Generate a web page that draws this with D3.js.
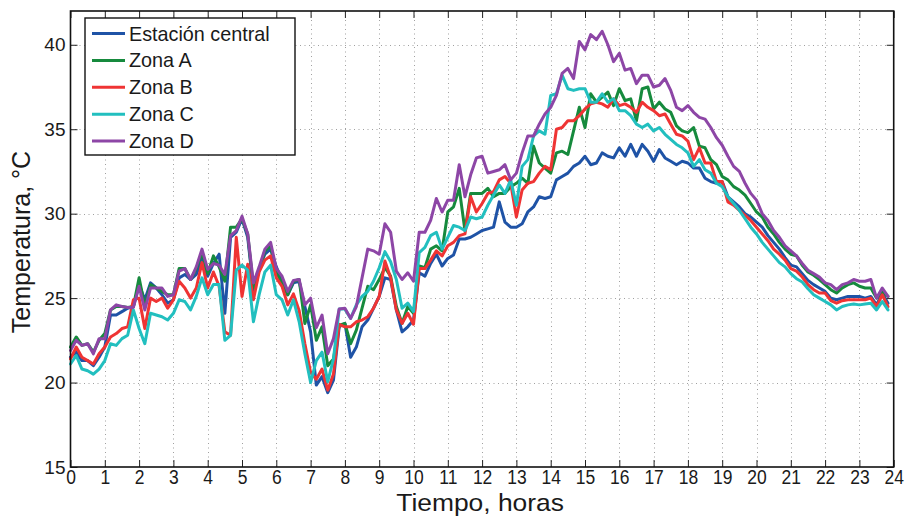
<!DOCTYPE html>
<html>
<head>
<meta charset="utf-8">
<script src="https://cdn.jsdelivr.net/npm/d3@7"></script>
<style>
  body { margin: 0; background: #fff; }
  svg { display: block; font-family: "Liberation Sans", Arial, Helvetica, sans-serif; }
</style>
</head>
<body>
<svg id="chart" width="906" height="517"></svg>
<script>
// Axis ticks
const hourTicks = d3.range(0, 25);
const tempTicks = [15, 20, 25, 30, 35, 40];

// Readings every 10 minutes, from 0:00 to 23:50
const sampleMinutes = 10;

const seriesNames = ["Estación central", "Zona A", "Zona B", "Zona C", "Zona D"];
const seriesColors = ["#1f53a6", "#168a3d", "#ef3434", "#22bfbf", "#8d46a6"];

const estacionCentral = [
  21.5, 21.8, 21.3, 21.3, 21.0, 21.5,
  22.1, 24.0, 24.0, 24.2, 24.4, 24.5,
  25.8, 24.9, 25.9, 25.6, 25.2, 24.7,
  24.9, 26.2, 26.4, 26.1, 26.4, 27.3,
  26.3, 27.05, 27.6, 24.1, 28.6, 28.9,
  29.7, 28.6, 25.5, 26.75, 27.6, 27.9,
  26.85, 26.1, 25.2, 25.9, 26.0, 24.5,
  23.0, 19.85, 20.35, 19.4, 20.15, 23.3,
  23.5, 21.5, 22.1, 23.3, 23.7, 24.4,
  25.1, 26.2, 26.1, 24.3, 23.0, 23.3,
  23.7, 26.5, 26.3, 27.05, 27.6, 26.9,
  27.35, 27.55, 28.5, 28.5, 28.6, 28.8,
  29.0, 29.1, 29.2, 30.7, 29.5, 29.2,
  29.2, 29.4, 30.1, 30.4, 31.0, 30.9,
  31.0, 32.0, 32.2, 32.4, 32.8, 33.0,
  33.4, 32.9, 33.0, 33.6, 33.4, 33.3,
  33.9, 33.4, 34.1, 33.4, 34.1, 33.7,
  33.1, 33.8, 33.3, 33.1, 32.9, 33.1,
  33.0, 32.7, 32.7, 32.1, 31.9, 31.8,
  31.9, 31.0, 30.7, 30.4, 30.0, 29.8,
  29.5, 29.2, 28.7, 28.3, 27.9, 27.4,
  26.95, 26.85, 26.45, 26.05, 25.8, 25.6,
  25.4, 25.0, 24.9, 25.0, 25.1, 25.1,
  25.1, 25.0, 25.1, 24.6, 25.3, 24.7
];

const zonaA = [
  22.1, 22.7, 22.2, 22.3, 21.8, 22.5,
  22.9, 24.3, 24.5, 24.5, 24.45, 24.5,
  26.2, 24.5, 25.8, 25.6, 25.4, 25.2,
  25.2, 26.75, 26.75, 26.1, 26.75, 27.7,
  26.45, 27.5, 26.85, 26.0, 29.2, 29.2,
  29.7, 28.8, 25.6, 26.65, 27.8, 28.1,
  26.55, 25.9, 25.2, 26.0, 26.1, 23.5,
  24.6, 22.5, 23.3, 21.0, 21.4, 23.4,
  23.5, 22.3, 23.1, 24.4, 25.7, 25.5,
  26.1, 26.8, 26.3, 24.5, 23.5, 24.5,
  24.1, 26.9, 26.8, 27.9, 28.1, 27.8,
  30.1, 30.4, 31.5, 29.0, 31.2, 31.2,
  31.2, 31.5, 31.0, 31.2, 31.2, 31.6,
  31.8, 32.1, 31.8, 34.0, 33.0, 32.7,
  32.4, 33.6, 33.7, 33.5, 34.9, 36.3,
  35.1, 37.1, 36.6, 36.9, 37.2, 36.4,
  37.4, 36.7, 36.8, 35.5, 37.4, 37.5,
  36.2, 36.6, 36.2, 36.0, 35.2, 34.9,
  34.8, 35.1, 34.0, 33.9, 33.2, 32.9,
  32.2, 32.0, 31.6, 31.4, 31.1, 30.6,
  30.1, 29.8, 29.2, 28.8, 28.3, 27.9,
  27.6, 27.5, 26.95, 26.55, 26.35, 26.1,
  25.8, 25.5, 25.3, 25.6, 25.8, 25.9,
  25.7, 25.6, 25.6, 25.0, 25.4, 25.1
];

const zonaB = [
  21.4, 22.1, 21.5, 21.3, 21.1, 21.7,
  22.1, 22.7, 22.9, 23.2, 23.3, 24.9,
  25.0, 23.2, 25.0, 24.8, 25.0, 24.4,
  24.9, 26.0, 25.6, 25.0, 25.6, 27.1,
  25.6, 26.55, 25.7, 23.0, 22.8, 28.6,
  25.1, 27.0, 24.9, 26.55, 27.25, 27.5,
  26.2, 25.7, 24.6, 25.25, 24.25, 22.3,
  20.6, 20.2, 20.8, 19.55, 20.5, 23.45,
  23.3, 23.3, 23.6, 23.7, 23.9, 24.4,
  25.1, 27.2, 26.2, 24.3, 23.5, 24.1,
  23.45, 26.75, 26.75, 27.25, 27.8, 27.5,
  28.1, 28.3, 28.7, 28.8, 31.0, 30.1,
  30.6, 31.2, 31.3, 32.0, 32.2, 31.8,
  29.8, 31.4, 31.8, 31.9, 32.4, 32.8,
  32.6, 35.0, 35.1, 35.5, 35.5, 35.8,
  36.2, 36.5, 36.6, 36.5, 36.3, 36.8,
  36.4, 36.5, 36.3, 36.0, 36.6, 36.3,
  36.1, 35.8, 35.9, 35.3, 34.7, 34.6,
  34.3, 33.2, 33.9, 33.0, 33.0, 31.9,
  31.9, 30.7, 30.5, 30.2, 29.9, 29.6,
  29.2, 28.8, 28.4, 27.9, 27.6, 27.25,
  26.75, 26.6, 26.25, 25.8, 25.5, 25.3,
  25.3, 24.85, 24.7, 24.85, 24.9, 24.9,
  24.9, 24.9, 25.0, 24.5, 25.2, 24.5
];

const zonaC = [
  21.1, 21.6, 20.8, 20.7, 20.5, 20.8,
  21.3, 22.3, 22.2, 22.6, 22.8, 24.3,
  23.2, 22.3, 24.1, 24.0, 23.9, 23.7,
  24.1, 24.9, 24.8, 24.3, 25.1, 26.2,
  25.2, 25.8, 25.8, 22.5, 22.8, 26.65,
  26.95, 26.65, 23.6, 25.2, 26.55, 26.95,
  25.2, 24.9, 24.0, 24.9, 23.6, 21.7,
  20.0, 21.3, 21.8, 20.05, 21.4, 24.35,
  24.35, 23.8, 24.6, 25.1, 25.4, 26.0,
  26.8, 27.75, 27.15, 26.1, 24.4, 24.7,
  24.2, 27.7, 28.0, 28.7, 28.9, 27.9,
  28.6, 29.3, 29.2, 29.0, 29.8, 29.7,
  29.8, 30.5, 31.1, 31.7, 31.2, 32.0,
  30.5, 32.8, 33.2, 34.6, 34.9, 34.7,
  37.0, 37.1, 38.2, 37.4, 37.3, 37.4,
  37.4, 36.6, 36.6, 37.1, 36.6, 36.8,
  36.1, 36.1, 35.8, 35.3, 35.1, 35.3,
  34.9, 35.1, 34.7, 34.4, 34.1, 33.9,
  33.6, 32.8, 33.2, 32.6, 32.4, 31.8,
  31.6, 31.0, 30.6, 30.2, 29.7, 29.2,
  28.8, 28.3, 27.9, 27.5, 27.1, 26.85,
  26.45, 26.15, 25.95, 25.55, 25.2, 25.0,
  24.8, 24.6, 24.3, 24.5, 24.6, 24.65,
  24.6, 24.65, 24.7, 24.3, 24.8, 24.3
];

const zonaD = [
  21.9, 22.5, 22.2, 22.3, 21.7, 22.6,
  22.6, 24.3, 24.6, 24.5, 24.45, 24.45,
  25.7, 24.3, 25.6, 25.6, 25.6, 25.1,
  25.2, 26.6, 26.75, 26.1, 26.85, 27.9,
  26.7, 27.05, 26.95, 26.4, 28.7, 29.0,
  29.85, 28.8, 25.9, 26.85, 27.9, 28.3,
  26.75, 26.3, 25.4, 26.05, 26.1, 24.6,
  25.0, 23.25, 24.0, 21.7, 22.6, 24.35,
  24.4, 23.8, 24.5, 26.2, 27.9, 27.8,
  27.6, 29.4, 28.9, 26.6, 26.1, 26.5,
  26.0, 28.9, 28.9, 29.6, 30.9, 30.1,
  30.8, 30.8, 32.9, 31.0, 32.3, 33.3,
  33.4, 32.4, 32.5, 32.6, 32.9, 32.0,
  32.4, 33.6, 34.6, 34.6, 35.3, 35.9,
  36.3, 37.0, 38.3, 38.6, 38.0, 40.2,
  39.7, 40.6, 40.3, 40.8, 40.0, 39.0,
  39.5, 38.5, 38.6, 37.7, 38.2, 38.2,
  37.5, 37.6, 38.0, 37.3, 36.3, 36.1,
  36.4, 36.0, 35.7, 35.6, 35.1, 34.5,
  34.05, 33.4, 32.8, 32.5, 31.8, 31.2,
  30.8, 30.0, 29.6, 29.0, 28.6, 28.1,
  27.8, 27.5, 27.05, 26.65, 26.45, 26.25,
  25.9, 25.8, 25.5, 25.8, 25.9, 26.1,
  26.0, 26.0, 26.1, 25.0, 25.6, 25.1
];

const seriesValues = [estacionCentral, zonaA, zonaB, zonaC, zonaD];

// ---- layout ----
const svg = d3.select("#chart");
const plotLeft = 70.5, plotRight = 893.7, plotTop = 11, plotBottom = 467;

const x = d3.scaleLinear().domain([0, 24]).range([plotLeft, plotRight]);
const y = d3.scaleLinear().domain([15, 42]).range([plotBottom, plotTop]);

// dotted grid
const grid = svg.append("g")
  .attr("stroke", "#a0a0a0")
  .attr("stroke-width", 1)
  .attr("stroke-dasharray", "1,3.5");
grid.selectAll("line.gx")
  .data(hourTicks.filter(h => h > 0 && h < 24))
  .join("line")
  .attr("class", "gx")
  .attr("x1", d => Math.round(x(d)) + 0.5).attr("x2", d => Math.round(x(d)) + 0.5)
  .attr("y1", plotTop).attr("y2", plotBottom);
grid.selectAll("line.gy")
  .data(tempTicks.filter(t => t > 15))
  .join("line")
  .attr("class", "gy")
  .attr("x1", plotLeft).attr("x2", plotRight)
  .attr("y1", d => Math.round(y(d)) + 0.5).attr("y2", d => Math.round(y(d)) + 0.5);

// data lines
const line = d3.line()
  .x((d, i) => x(i * sampleMinutes / 60))
  .y(d => y(d));

svg.append("g")
  .selectAll("path")
  .data(seriesValues)
  .join("path")
  .attr("d", d => line(d))
  .attr("fill", "none")
  .attr("stroke", (d, i) => seriesColors[i])
  .attr("stroke-width", 3)
  .attr("stroke-linejoin", "round")
  .attr("stroke-linecap", "round");

// axes with inward ticks on all four sides
const tickLen = 7;
const axB = svg.append("g").attr("transform", `translate(0,${plotBottom})`)
  .call(d3.axisBottom(x).tickValues(hourTicks).tickSize(-tickLen).tickPadding(2).tickFormat(d3.format("d")));
const axT = svg.append("g").attr("transform", `translate(0,${plotTop})`)
  .call(d3.axisTop(x).tickValues(hourTicks).tickSize(-tickLen).tickFormat(""));
const axL = svg.append("g").attr("transform", `translate(${plotLeft},0)`)
  .call(d3.axisLeft(y).tickValues(tempTicks).tickSize(-tickLen).tickPadding(5).tickFormat(d3.format("d")));
const axR = svg.append("g").attr("transform", `translate(${plotRight},0)`)
  .call(d3.axisRight(y).tickValues(tempTicks).tickSize(-tickLen).tickFormat(""));

[axB, axT, axL, axR].forEach(a => {
  a.select(".domain").remove();
  a.selectAll(".tick line").attr("stroke", "#222").attr("stroke-width", 1);
});
// hour labels are set in a narrow, tall style
axB.selectAll(".tick text")
  .attr("font-size", 17.5).attr("fill", "#1a1a1a")
  .attr("font-family", '"Liberation Sans", Arial, sans-serif')
  .attr("transform", "scale(1,1.2)");
axL.selectAll(".tick text").attr("font-size", 19).attr("fill", "#1a1a1a")
  .attr("font-family", '"Liberation Sans", Arial, sans-serif');

// frame
svg.append("rect")
  .attr("x", plotLeft).attr("y", plotTop)
  .attr("width", plotRight - plotLeft).attr("height", plotBottom - plotTop)
  .attr("fill", "none").attr("stroke", "#111").attr("stroke-width", 1.6);

// axis titles
svg.append("text")
  .attr("transform", `translate(${(plotLeft + plotRight) / 2 - 2},510.5) scale(1.1,1)`)
  .attr("text-anchor", "middle")
  .attr("font-size", 24).attr("fill", "#1a1a1a")
  .text("Tiempo, horas");
svg.append("text")
  .attr("transform", "translate(30,242) rotate(-90)")
  .attr("text-anchor", "middle")
  .attr("font-size", 25).attr("fill", "#1a1a1a")
  .text("Temperatura, °C");

// legend
const legend = svg.append("g");
legend.append("rect")
  .attr("x", 85).attr("y", 18).attr("width", 210).attr("height", 137)
  .attr("fill", "#fff").attr("stroke", "#111").attr("stroke-width", 1.4);
const rowY = d3.scalePoint().domain(seriesNames).range([33.5, 141]);
const entries = legend.selectAll("g.entry")
  .data(seriesNames)
  .join("g")
  .attr("class", "entry")
  .attr("transform", d => `translate(0,${rowY(d)})`);
entries.append("line")
  .attr("x1", 92).attr("x2", 125)
  .attr("stroke", (d, i) => seriesColors[i])
  .attr("stroke-width", 3);
entries.append("text")
  .attr("x", 129).attr("y", 7)
  .attr("font-size", 19.8).attr("fill", "#1a1a1a")
  .text(d => d);
</script>
</body>
</html>
